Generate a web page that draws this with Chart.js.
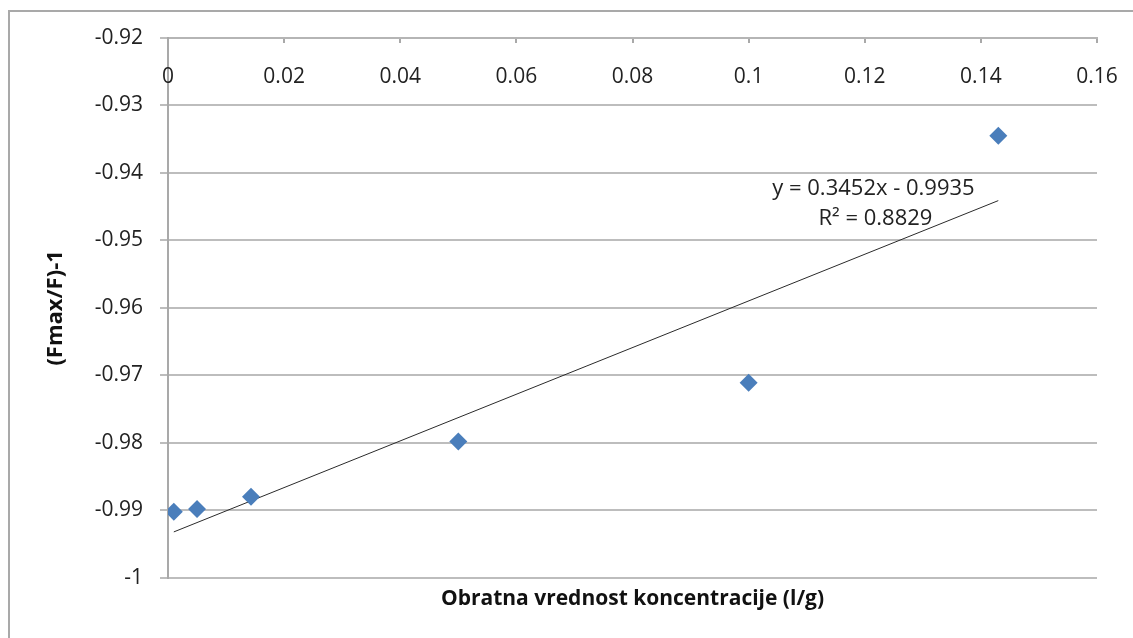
<!DOCTYPE html>
<html>
<head>
<meta charset="utf-8">
<script src="https://cdn.jsdelivr.net/npm/chart.js@4.4.1/dist/chart.umd.min.js"></script>
<style>
  html, body { margin: 0; padding: 0; background: #fff; overflow: hidden; }
  #frame {
    position: absolute; left: 8px; top: 10px; width: 1300px; height: 800px;
    border-left: 2px solid #a9a9a9; border-top: 2px solid #a9a9a9;
  }
  #wrap { position: absolute; left: 0; top: 0; width: 1133px; height: 638px; }
</style>
</head>
<body>
<div id="frame"></div>
<div id="wrap"><canvas id="chart"></canvas></div>
<script>
// valeurs
const concInverse = [0.001, 0.005, 0.0143, 0.05, 0.1, 0.143];
const fluoRatio = [-0.9902, -0.9898, -0.988, -0.9798, -0.9711, -0.9345];

// droite de tendance (extrémités)
const trendX = [0.001, 0.143];
const trendY = [-0.9932, -0.9441];

const equationText = "y = 0.3452x - 0.9935";
const r2Text = "R² = 0.8829";

const xTitle = "Obratna vrednost koncentracije (l/g)";
const yTitle = "(Fmax/F)-1";

const fontFamily = "'Open Sans', 'Liberation Sans', sans-serif";

function fmt(v) {
  return String(+Number(v).toFixed(4));
}

// étiquettes de l'axe x sous la ligne du haut (comme Excel)
const xLabelsPlugin = {
  id: "xLabels",
  afterDraw(chart) {
    const ctx = chart.ctx;
    const xs = chart.scales.x;
    ctx.save();
    ctx.fillStyle = "#222";
    ctx.font = "21px " + fontFamily;
    ctx.textAlign = "center";
    ctx.textBaseline = "middle";
    xs.ticks.forEach((t) => {
      ctx.fillText(fmt(t.value), xs.getPixelForValue(t.value), chart.chartArea.top + 39);
    });
    ctx.restore();
  }
};

// texte de l'équation près de la droite
const equationPlugin = {
  id: "equation",
  afterDatasetsDraw(chart) {
    const ctx = chart.ctx;
    const xs = chart.scales.x;
    const ys = chart.scales.y;
    const px = xs.getPixelForValue(0.1215);
    const py = ys.getPixelForValue(-0.9423);
    ctx.save();
    ctx.fillStyle = "#222";
    ctx.font = "22px " + fontFamily;
    ctx.textAlign = "center";
    ctx.textBaseline = "middle";
    ctx.fillText(equationText, px, py);
    ctx.fillText(r2Text, px + 2, py + 30);
    ctx.restore();
  }
};

const ctx = document.getElementById("chart").getContext("2d");

new Chart(ctx, {
  type: "scatter",
  data: {
    datasets: [
      {
        label: "data",
        data: concInverse.map((x, i) => ({ x: x, y: fluoRatio[i] })),
        pointStyle: "rectRot",
        pointRadius: 9,
        pointHoverRadius: 9,
        backgroundColor: "#4a7ebb",
        borderColor: "#4a7ebb",
        borderWidth: 0
      },
      {
        label: "trend",
        type: "line",
        data: trendX.map((x, i) => ({ x: x, y: trendY[i] })),
        borderColor: "#2a2a2a",
        borderWidth: 1,
        pointRadius: 0,
        fill: false
      }
    ]
  },
  options: {
    responsive: true,
    maintainAspectRatio: false,
    animation: false,
    layout: { padding: { left: 0, right: 36, top: 38, bottom: 14 } },
    plugins: {
      legend: { display: false },
      tooltip: { enabled: false },
      title: {
        display: true,
        position: "bottom",
        fullSize: false,
        text: xTitle,
        color: "#111",
        font: { family: fontFamily, size: 21, weight: "bold" },
        padding: { top: 9, bottom: 12 }
      }
    },
    scales: {
      x: {
        type: "linear",
        position: "top",
        min: 0,
        max: 0.16,
        afterFit: (scale) => { scale.height = 0; },
        ticks: {
          stepSize: 0.02,
          display: false
        },
        grid: {
          drawOnChartArea: false,
          tickLength: -5,
          color: "#a9a9a9",
          lineWidth: 2
        },
        border: { display: true, color: "#b5b5b5", width: 2 }
      },
      y: {
        type: "linear",
        min: -1,
        max: -0.92,
        afterFit: (scale) => { scale.width = 168; },
        ticks: {
          stepSize: 0.01,
          padding: 17,
          color: "#222",
          font: { family: fontFamily, size: 21 },
          callback: (v) => fmt(v)
        },
        grid: {
          color: "#bdbdbd",
          lineWidth: 2,
          tickLength: 8
        },
        border: { display: true, color: "#a9a9a9", width: 2 },
        title: {
          display: true,
          text: yTitle,
          color: "#111",
          font: { family: fontFamily, size: 22, weight: "bold" },
          padding: { top: 43, bottom: 0 }
        }
      }
    }
  },
  plugins: [equationPlugin, xLabelsPlugin]
});
</script>
</body>
</html>
